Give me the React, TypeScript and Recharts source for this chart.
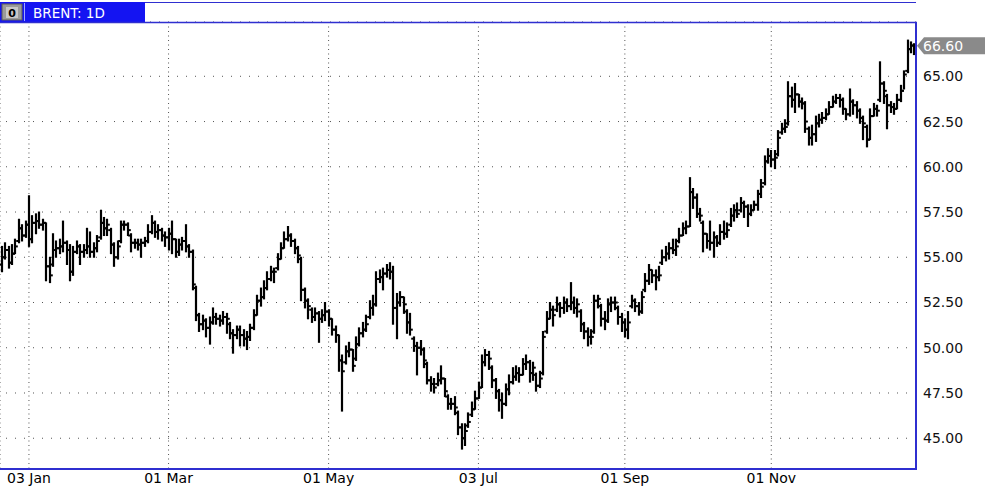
import React from 'react';
import { ComposedChart, Bar, XAxis, YAxis, CartesianGrid, ReferenceLine } from 'recharts';

const symbolTitle = 'BRENT: 1D';

const opens = [
54.6,55.0,55.4,54.7,55.2,55.9,56.6,56.2,56.8,56.0,
56.9,57.0,56.8,56.9,54.5,54.6,55.4,55.5,55.6,55.8,
55.4,54.2,55.3,55.6,55.3,55.4,55.6,55.3,55.5,56.1,
56.9,56.6,56.5,55.7,55.0,55.9,56.8,56.8,56.2,55.8,
55.8,55.7,55.8,55.9,56.4,56.9,56.4,56.5,56.2,56.1,
56.3,56.0,55.3,55.7,55.9,55.6,55.3,53.3,51.8,51.3,
51.5,51.1,51.4,51.7,51.6,51.5,51.7,51.3,50.8,50.7,
51.0,50.7,50.5,50.6,51.1,51.8,52.6,52.8,53.3,53.8,
54.2,54.4,54.9,55.5,56.0,56.2,55.9,55.5,54.9,53.2,
52.6,52.1,51.7,51.9,51.6,51.8,52.0,51.6,51.0,50.7,
49.3,49.2,49.8,49.9,49.4,50.2,50.8,51.0,51.7,52.2,
52.4,53.8,53.9,54.1,54.3,54.2,52.2,52.5,52.8,52.0,
51.4,50.5,50.1,50.0,49.9,49.1,48.2,48.0,48.0,48.2,
48.3,47.3,46.9,46.9,46.4,45.6,45.0,45.7,46.3,46.6,
47.2,47.8,49.2,49.6,48.9,48.2,47.6,47.1,46.9,47.7,
48.1,48.4,48.6,48.5,49.1,49.2,48.6,48.5,47.9,48.6,
50.9,51.6,52.1,52.1,52.4,52.2,52.5,52.3,52.5,52.2,
52.0,51.3,50.9,50.6,50.9,52.6,52.3,51.6,51.5,52.4,
52.5,52.2,51.7,51.4,51.0,52.3,52.6,52.3,52.0,53.2,
53.7,54.3,54.0,53.9,54.7,55.0,55.2,55.5,55.4,55.9,
56.2,56.6,56.7,58.6,58.3,57.4,56.9,56.3,55.9,55.8,
56.1,55.8,56.4,56.3,56.8,57.3,57.6,57.6,58.0,57.8,
57.4,57.6,57.9,58.5,59.1,60.3,60.6,60.4,60.7,61.9,
62.1,62.4,63.9,63.7,64.0,63.6,63.5,62.1,61.6,61.8,
62.4,62.6,62.7,62.9,63.3,63.6,63.8,63.7,63.2,62.9,
63.6,63.4,63.1,62.7,62.2,61.5,62.8,63.2,63.7,64.6,
63.9,63.4,63.3,63.2,63.7,64.2,65.3,66.5,66.7
];

const highs = [
55.6,55.8,55.6,55.7,56.0,57.1,56.8,57.0,58.4,57.3,
57.4,57.5,57.1,56.9,55.0,56.3,55.9,56.0,57.0,55.9,
55.7,55.6,55.9,55.7,55.7,56.6,56.4,55.8,56.2,57.6,
57.2,57.1,56.6,55.8,55.9,57.0,57.0,56.9,56.3,56.0,
56.0,56.0,56.1,56.8,57.3,57.0,56.8,56.6,56.4,56.6,
57.0,56.0,56.0,56.1,56.8,55.7,55.4,53.4,51.9,51.8,
51.6,51.7,52.2,51.9,51.8,52.0,51.9,51.4,51.0,51.2,
51.2,51.0,50.9,51.3,52.1,52.9,53.3,53.7,54.2,54.5,
54.4,55.2,55.8,56.4,56.7,56.3,56.0,55.6,55.0,53.3,
52.7,52.2,52.2,52.0,52.1,52.5,52.1,51.6,51.2,50.7,
49.6,50.1,50.3,49.9,50.6,51.1,51.4,51.8,52.6,52.9,
54.2,54.3,54.4,54.6,54.7,54.5,53.0,53.1,52.8,52.1,
51.9,50.6,50.3,50.4,50.0,49.2,48.4,48.3,48.6,49.0,
48.3,47.4,47.2,47.3,46.5,45.8,45.8,46.4,47.0,47.6,
48.1,49.6,49.9,49.8,49.0,48.3,47.7,47.5,48.0,48.5,
48.9,49.0,48.9,49.4,49.6,49.3,49.2,48.6,48.7,50.9,
52.0,52.5,52.3,52.8,52.5,52.8,52.7,53.6,52.8,52.7,
52.1,51.4,51.1,51.0,52.9,52.9,52.4,52.0,52.7,52.8,
52.8,52.3,51.9,51.6,52.0,52.9,52.7,52.5,53.1,54.1,
54.6,54.3,54.3,54.5,55.4,55.6,55.8,56.0,56.0,56.6,
56.9,57.0,59.4,58.8,58.5,57.7,57.0,56.3,57.0,56.4,
56.2,56.8,57.0,56.9,57.7,57.9,58.0,58.3,58.1,57.9,
57.9,58.1,58.7,59.3,60.6,61.0,60.9,60.9,62.0,62.4,
62.6,64.7,64.4,64.6,64.0,63.8,63.6,62.2,62.3,62.8,
62.9,63.0,63.2,63.6,63.9,64.0,64.0,63.8,63.2,64.3,
63.7,63.6,63.2,62.8,62.3,63.2,63.5,63.4,65.8,64.7,
64.0,63.6,63.5,64.0,64.5,65.3,67.0,66.9,66.8
];

const lows = [
54.2,54.9,54.4,54.6,55.2,55.8,55.9,56.1,55.6,55.8,
56.3,56.6,56.5,53.7,53.6,54.5,55.0,55.2,55.3,54.6,
53.7,54.0,55.2,54.6,55.0,55.2,55.0,55.0,55.3,56.0,
56.2,56.2,55.2,54.5,54.9,55.8,56.5,56.2,55.3,55.5,
55.4,55.0,55.6,55.8,56.3,56.1,56.0,55.9,55.6,55.4,
55.2,55.0,55.1,55.4,55.3,55.0,53.2,51.5,50.9,51.0,
50.6,50.2,51.3,51.3,51.2,51.3,50.8,50.5,49.7,50.5,
50.1,50.1,49.9,50.4,51.0,51.8,52.3,52.7,53.2,53.7,
53.6,54.3,54.9,55.5,55.9,55.6,55.2,54.7,52.6,52.2,
51.6,51.4,51.5,50.3,51.4,51.5,51.2,50.7,50.3,48.7,
46.5,49.1,49.5,48.7,49.3,50.1,50.6,50.9,51.6,51.8,
52.3,53.6,53.2,53.9,53.8,51.3,50.5,52.3,51.9,50.8,
50.7,49.8,48.5,49.6,48.9,48.0,47.6,47.5,47.9,48.0,
47.3,46.6,46.6,46.3,45.2,44.4,44.6,45.6,46.2,46.6,
47.2,47.8,49.0,48.8,47.8,47.2,46.5,46.1,46.8,47.4,
48.0,48.2,48.1,48.5,48.8,48.1,48.2,47.6,47.8,48.5,
50.8,51.6,51.2,52.0,51.7,51.9,52.0,52.1,51.9,51.7,
50.9,50.5,50.1,50.2,50.8,52.2,51.2,51.0,51.4,52.0,
52.1,51.3,50.9,50.6,50.5,52.2,52.0,51.8,51.9,53.1,
53.5,53.6,53.2,53.7,54.6,54.8,54.9,55.2,55.1,55.8,
56.2,56.3,56.7,57.7,57.2,57.0,55.3,55.5,55.4,55.0,
55.6,55.7,56.0,56.1,56.7,57.0,57.2,57.5,57.2,56.7,
57.3,57.6,57.6,58.3,59.0,60.2,60.0,59.9,60.6,61.8,
61.9,62.3,63.3,63.0,63.3,63.2,61.9,61.2,61.2,61.4,
62.2,62.4,62.6,62.9,63.3,63.5,63.3,62.9,62.6,62.8,
62.9,62.7,62.4,61.5,61.1,61.5,62.8,62.8,63.6,63.5,
62.1,63.0,62.9,63.2,63.6,64.3,65.2,66.3,66.2
];

const closes = [
55.0,55.4,54.7,55.2,55.6,56.6,56.2,56.8,56.0,56.9,
57.0,56.8,56.9,54.5,54.0,55.4,55.5,55.6,55.8,55.4,
54.2,55.3,55.6,55.3,55.4,55.6,55.3,55.5,55.9,56.9,
56.6,56.8,55.7,55.0,55.6,56.8,56.8,56.5,55.8,55.8,
55.7,55.8,55.9,56.4,56.9,56.4,56.5,56.2,56.1,56.3,
56.0,55.3,55.7,55.9,55.6,55.3,53.5,51.8,51.3,51.5,
51.1,51.4,51.7,51.6,51.5,51.7,51.6,50.8,50.7,51.0,
50.7,50.5,50.6,51.1,51.8,52.6,52.8,53.3,53.8,54.2,
54.2,54.9,55.5,56.0,56.2,55.9,55.5,55.1,53.2,52.6,
52.3,51.7,51.9,51.6,51.8,52.0,51.6,51.0,50.7,49.3,
48.7,49.8,49.9,49.0,50.2,50.8,51.0,51.3,52.2,52.4,
53.8,53.9,54.1,54.3,54.2,52.2,52.5,52.8,52.4,51.4,
51.0,50.1,50.0,49.9,49.3,48.2,48.0,47.8,48.2,48.3,
47.6,46.9,46.9,46.7,45.6,45.0,45.4,45.9,46.6,47.2,
47.8,49.2,49.6,49.4,48.2,47.6,47.1,46.9,47.7,48.1,
48.4,48.6,48.5,49.1,49.2,48.6,48.9,47.9,48.3,50.6,
51.6,52.1,51.8,52.4,52.2,52.5,52.3,52.5,52.2,52.4,
51.3,50.9,50.6,50.6,52.6,52.7,51.6,51.5,52.4,52.5,
52.5,51.7,51.4,51.0,51.4,52.6,52.3,52.0,52.8,53.7,
54.3,54.0,53.9,54.0,55.0,55.2,55.5,55.4,55.6,56.2,
56.6,56.7,58.6,58.3,57.4,57.3,56.3,55.9,55.8,56.1,
55.8,56.4,56.3,56.5,57.3,57.6,57.4,58.0,57.8,57.4,
57.6,57.9,58.5,58.9,60.3,60.6,60.4,60.5,61.6,62.1,
62.2,63.9,63.7,64.0,63.6,63.5,62.5,61.6,61.8,62.4,
62.6,62.7,62.9,63.3,63.6,63.8,63.7,63.2,62.9,63.6,
63.4,63.1,62.7,62.4,61.5,62.8,63.2,63.1,64.6,64.2,
63.4,63.3,63.2,63.7,64.2,65.1,66.5,66.7,66.6
];

const tickIndexes = [8, 49, 96, 140, 183, 226];
const tickLabels = ['03 Jan', '01 Mar', '01 May', '03 Jul', '01 Sep', '01 Nov'];
const priceTicks = [45, 47.5, 50, 52.5, 55, 57.5, 60, 62.5, 65];
const priceDomain = [43.3, 68.0];

const data = closes.map((c, i) => ({
  i,
  range: [lows[i], highs[i]],
  o: opens[i],
  h: highs[i],
  l: lows[i],
  c,
}));

const FONT = '"DejaVu Sans", Verdana, sans-serif';
const BLUE = '#2f2fd0';

const OhlcShape = (props: any) => {
  const { x, y, width, height, payload } = props;
  if (payload == null || x == null) return null;
  const top = Math.min(y, y + height);
  const bot = Math.max(y, y + height);
  const cx = Math.round(x + width / 2);
  const span = payload.h - payload.l;
  const k = span > 0 ? (bot - top) / span : 0;
  const yo = top + (payload.h - payload.o) * k;
  const yc = top + (payload.h - payload.c) * k;
  return (
    <g>
      <line x1={cx} x2={cx} y1={top - 0.5} y2={bot + 0.5} stroke="#000" strokeWidth={2.2} />
      <line x1={cx - 2.8} x2={cx} y1={yo} y2={yo} stroke="#000" strokeWidth={2} />
      <line x1={cx} x2={cx + 2.8} y1={yc} y2={yc} stroke="#000" strokeWidth={2} />
    </g>
  );
};

const PriceTag = (props: any) => {
  const vb = props.viewBox || {};
  const x0 = (vb.x || 0) + (vb.width || 0) + 1;
  const yc = (vb.y || 0) - 1.5;
  const pts = `${x0},${yc} ${x0 + 7},${yc - 8.5} ${985},${yc - 8.5} ${985},${yc + 8.5} ${x0 + 7},${yc + 8.5}`;
  return (
    <g>
      <polygon points={pts} fill="#8a8a8a" />
      <text x={x0 + 6} y={yc} dy="0.36em" fill="#fff" fontSize={14} fontFamily={FONT}>
        {closes[closes.length - 1].toFixed(2)}
      </text>
    </g>
  );
};

export default function App() {
  return (
    <div style={{ position: 'absolute', left: 0, top: 0, width: 985, height: 487, background: '#fff' }}>
      <ComposedChart
        width={985}
        height={487}
        data={data}
        margin={{ top: 22, right: 0, bottom: 0, left: 0 }}
        barCategoryGap="10%"
      >
        <CartesianGrid horizontal vertical={false} stroke="#555" strokeDasharray="1 8" strokeDashoffset={-6} />
        <CartesianGrid horizontal={false} vertical stroke="#555" strokeDasharray="1 3.5" />
        <XAxis
          dataKey="i"
          type="category"
          ticks={tickIndexes}
          interval={0}
          tickFormatter={(v: any) => tickLabels[tickIndexes.indexOf(Number(v))] || ''}
          tickLine={false}
          axisLine={false}
          tickSize={0}
          tickMargin={4}
          height={18}
          tick={{ fill: '#000', fontSize: 14, fontFamily: FONT }}
        />
        <YAxis
          orientation="right"
          type="number"
          domain={priceDomain}
          ticks={priceTicks}
          allowDataOverflow
          interval={0}
          tickFormatter={(v: any) => Number(v).toFixed(2)}
          tickLine={false}
          axisLine={false}
          tickSize={0}
          tickMargin={7}
          width={69}
          tick={{ fill: '#111', fontSize: 14, fontFamily: FONT, textAnchor: 'start' }}
        />
        <Bar dataKey="range" isAnimationActive={false} shape={(p: any) => <OhlcShape {...p} />} />
        <ReferenceLine
          y={closes[closes.length - 1]}
          stroke="none"
          ifOverflow="visible"
          label={(p: any) => <PriceTag {...p} />}
        />
      </ComposedChart>
      <svg
        width={985}
        height={487}
        style={{ position: 'absolute', left: 0, top: 0, pointerEvents: 'none' }}
      >
        <line x1={145} x2={916} y1={2.5} y2={2.5} stroke={BLUE} strokeWidth={1} />
        <rect x={0} y={2} width={145} height={20} fill="#1414f2" />
        <rect x={2} y={4} width={20} height={16} fill="#9a9a9a" stroke="#5a5a5a" strokeWidth={1} />
        <rect x={6} y={7} width={12} height={11} fill="#c8c8c8" />
        <text x={12} y={16.5} textAnchor="middle" fill="#000" fontSize={11} fontWeight="bold" fontFamily={FONT}>0</text>
        <line x1={24.5} x2={24.5} y1={3} y2={21} stroke="#9fa8ff" strokeWidth={1} />
        <text x={33} y={17.5} fill="#fff" fontSize={13.5} fontFamily={FONT}>{symbolTitle}</text>
        <line x1={0} x2={917} y1={22.5} y2={22.5} stroke={BLUE} strokeWidth={1.5} />
        <line x1={916} x2={916} y1={22} y2={470} stroke={BLUE} strokeWidth={2} />
        <line x1={0} x2={917} y1={469} y2={469} stroke={BLUE} strokeWidth={2} />
      </svg>
    </div>
  );
}
